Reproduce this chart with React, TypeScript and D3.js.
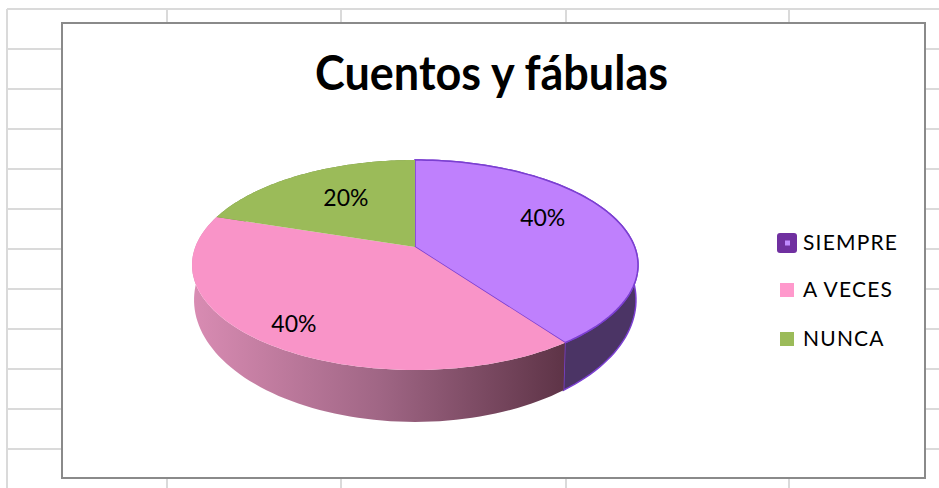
import React from "react";
import * as d3 from "d3";

// ---- data ----
const categories = ["SIEMPRE", "A VECES", "NUNCA"];
const values = [40, 40, 20];
const labels = ["40%", "40%", "20%"];
const title = "Cuentos y fábulas";

// ---- styles / layout ----
const topColors = ["#bf80fd", "#f994c8", "#9bbb59"];
const legendColors = ["#7030a0", "#ff99cc", "#9bbb59"];
const W = 939;
const H = 488;
const chartBox = { x: 62, y: 23, w: 863, h: 455 };
const gridCols = [7, 167, 341, 566, 789];
const rowStart = 9;
const rowH = 40;
const labelRadius = [0.68, 0.83, 0.63];
const labelShiftDeg = [-8, 0, 3];

// perspective projection of a unit disc (u right, v toward viewer)
const cx = 415;
const k = -0.1714;
const topFace = { A: 219.7, B: 101.9, Y0: 247 };
const botFace = { A: 217.7, B: 118.4, Y0: 279 };

function proj(face: { A: number; B: number; Y0: number }, theta: number, r = 1): [number, number] {
  const u = r * Math.sin(theta);
  const v = -r * Math.cos(theta);
  const d = 1 + k * v;
  return [cx + (face.A * u) / d, face.Y0 + (face.B * v) / d];
}

function arcPts(face: any, a0: number, a1: number, n = 80): [number, number][] {
  return d3.range(n + 1).map((i) => proj(face, a0 + ((a1 - a0) * i) / n));
}

export default function App() {
  const pie = d3.pie<number>().sort(null).value((d) => d);
  const arcs = pie(values);
  const line = d3.line<[number, number]>().curve(d3.curveLinear);

  const topPaths = arcs.map((a) => {
    const pts: [number, number][] = [proj(topFace, 0, 0), ...arcPts(topFace, a.startAngle, a.endAngle)];
    return line(pts) + "Z";
  });
  const sidePaths = arcs.map((a) => {
    const t = arcPts(topFace, a.startAngle, a.endAngle);
    const b = arcPts(botFace, a.startAngle, a.endAngle).reverse();
    return line([...t, ...b]) + "Z";
  });
  const sideFills = ["#4b3465", "url(#pinkSide)", "#6e8a3e"];
  const labelPos = arcs.map((a, i) =>
    proj(topFace, (a.startAngle + a.endAngle) / 2 + (labelShiftDeg[i] * Math.PI) / 180, labelRadius[i])
  );

  const rows = d3.range(rowStart, H, rowH);
  const legendY = [243, 290, 339];

  return (
    <svg width={W} height={H} style={{ position: "absolute", left: 0, top: 0 }}>
      <defs>
        <linearGradient id="pinkSide" gradientUnits="userSpaceOnUse" x1={192} y1={0} x2={567} y2={0}>
          <stop offset="0" stopColor="#d98cb3" />
          <stop offset="0.5" stopColor="#a06685" />
          <stop offset="1" stopColor="#5d3346" />
        </linearGradient>
      </defs>
      <rect x={0} y={0} width={W} height={H} fill="#ffffff" />
      {/* spreadsheet grid */}
      {rows.map((y) => (
        <line key={"r" + y} x1={gridCols[0]} x2={W} y1={y} y2={y} stroke="#dadada" strokeWidth={2} />
      ))}
      {gridCols.map((x) => (
        <line key={"c" + x} x1={x} x2={x} y1={rowStart} y2={H} stroke="#dadada" strokeWidth={2} />
      ))}
      {/* chart area */}
      <rect x={chartBox.x} y={chartBox.y} width={chartBox.w} height={chartBox.h} fill="#ffffff" stroke="#8a8a8a" strokeWidth={2} />
      <text
        x={491.5}
        y={90}
        textAnchor="middle"
        fontFamily="Lato, 'Open Sans', sans-serif"
        fontWeight="bold"
        fontSize={47}
        textLength={353}
        lengthAdjust="spacingAndGlyphs"
        fill="#000"
      >
        {title}
      </text>
      {/* sides */}
      {sidePaths.map((p, i) => (
        <path key={"s" + i} d={p} fill={sideFills[i]} stroke={i === 0 ? "#7b3fd1" : "none"} strokeWidth={1.5} />
      ))}
      {/* tops */}
      {topPaths.map((p, i) => (
        <path key={"t" + i} d={p} fill={topColors[i]} stroke={i === 0 ? "#7b3fd1" : "none"} strokeWidth={i === 0 ? 1.5 : 0} strokeLinejoin="round" />
      ))}
      {/* labels */}
      {labelPos.map(([x, y], i) => (
        <text key={"l" + i} x={x} y={y} dy="0.35em" textAnchor="middle" fontFamily="Lato, sans-serif" fontSize={23} fill="#000">
          {labels[i]}
        </text>
      ))}
      {/* legend */}
      {categories.map((c, i) => (
        <g key={"g" + c}>
          {i === 0 ? (
            <>
              <rect x={777} y={legendY[i] - 10} width={20} height={20} rx={3} fill={legendColors[0]} />
              <rect x={785} y={legendY[i] - 2.5} width={5} height={5} fill="#c08aff" />
            </>
          ) : (
            <rect x={780} y={legendY[i] - 7} width={14} height={14} fill={legendColors[i]} />
          )}
          <text x={803} y={legendY[i]} dy="0.35em" fontFamily="Lato, sans-serif" fontSize={21} letterSpacing={1.2} fill="#000">
            {c}
          </text>
        </g>
      ))}
    </svg>
  );
}
